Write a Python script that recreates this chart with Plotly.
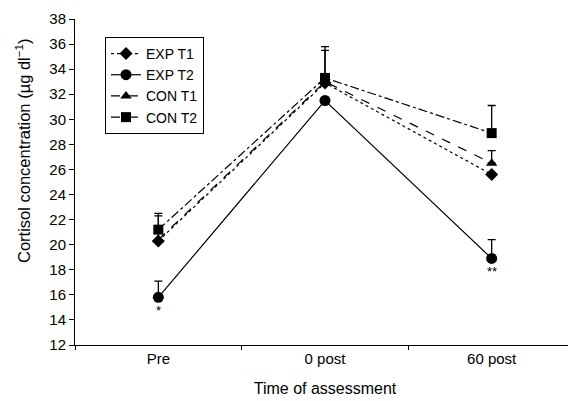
import plotly.graph_objects as go

categories = ["Pre", "0 post", "60 post"]
exp_t1 = [20.3, 32.9, 25.6]
exp_t2 = [15.8, 31.5, 18.9]
con_t1 = [20.4, 33.0, 26.5]
con_t2 = [21.2, 33.3, 28.9]
exp_t1_err = [0.0, 0.0, 0.0]
exp_t2_err = [1.3, 0.0, 1.5]
con_t1_err = [1.9, 2.5, 1.0]
con_t2_err = [1.3, 2.5, 2.2]
y_ticks = list(range(12, 39, 2))
sig_labels = ["*", "", "**"]

series = [
    ("EXP T1", exp_t1, exp_t1_err, "dot", "diamond", 10),
    ("EXP T2", exp_t2, exp_t2_err, "solid", "circle", 11),
    ("CON T1", con_t1, con_t1_err, "dash", "triangle-up", 10),
    ("CON T2", con_t2, con_t2_err, "dashdot", "square", 10),
]

fig = go.Figure()
for name, vals, errs, dash, sym, size in series:
    fig.add_trace(go.Scatter(
        x=categories, y=vals, name=name, mode="lines+markers",
        line=dict(color="black", width=1.2, dash=dash),
        marker=dict(symbol=sym, size=size, color="black"),
        error_y=dict(type="data", symmetric=False, array=errs,
                     arrayminus=[0] * len(errs), color="black",
                     thickness=1.3, width=4, visible=True),
    ))

for cat, lab, v in zip(categories, sig_labels, exp_t2):
    if lab:
        fig.add_annotation(x=cat, y=v, text=lab, showarrow=False,
                           yshift=-13, font=dict(size=13, color="black"))

fig.add_annotation(xref="paper", yref="paper", x=-0.104, y=0.595,
                   text="Cortisol concentration (µg dl<sup>−1</sup>)",
                   textangle=-90, showarrow=False, xanchor="center",
                   yanchor="middle", font=dict(size=16.5, color="black"))

fig.update_layout(
    width=568, height=393,
    margin=dict(l=67, r=1, t=11, b=56),
    plot_bgcolor="white", paper_bgcolor="white",
    font=dict(family="Liberation Sans, Arial, sans-serif", size=15, color="black"),
    showlegend=True,
    legend=dict(x=0.06, y=0.945, xanchor="left", yanchor="top",
                bordercolor="black", borderwidth=1, bgcolor="white",
                itemwidth=30, tracegroupgap=0,
                font=dict(size=14, color="black")),
    xaxis=dict(type="category", range=[-0.5, 2.5], showline=True,
               linecolor="black", linewidth=1, ticks="outside",
               tickson="boundaries", ticklen=4, tickcolor="black",
               showgrid=False, zeroline=False,
               tickfont=dict(size=15),
               title=dict(text="Time of assessment", standoff=16,
                          font=dict(size=16))),
    yaxis=dict(range=[12, 38], tickvals=y_ticks, showline=True,
               linecolor="black", linewidth=1, ticks="outside", ticklen=5,
               tickcolor="black", showgrid=False, zeroline=False,
               tickfont=dict(size=15)),
)

fig.write_html("out.html")
